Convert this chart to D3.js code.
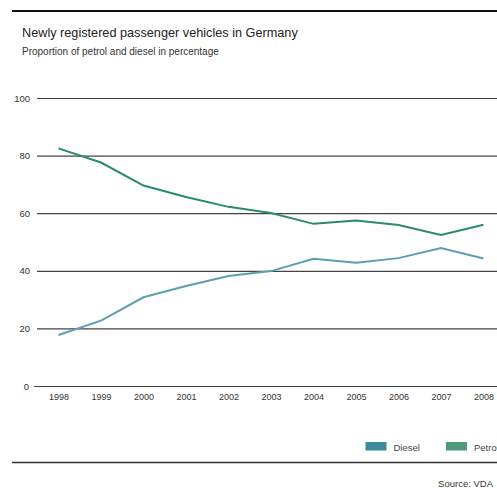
<!DOCTYPE html>
<html>
<head>
<meta charset="utf-8">
<script src="https://cdn.jsdelivr.net/npm/d3@7"></script>
<style>
  body { margin: 0; background: #fff; }
  svg { display: block; font-family: "Liberation Sans", Arial, sans-serif; }
</style>
</head>
<body>
<div id="chart"></div>
<script>
const years = [1998, 1999, 2000, 2001, 2002, 2003, 2004, 2005, 2006, 2007, 2008];
const petrol = [82.5, 77.6, 69.6, 65.6, 62.2, 60.1, 56.3, 57.5, 55.9, 52.4, 56.0];
const diesel = [17.7, 22.7, 30.8, 34.7, 38.2, 39.9, 44.2, 42.8, 44.4, 47.9, 44.3];
const yTicks = [0, 20, 40, 60, 80, 100];
const seriesNames = ["Diesel", "Petrol"];

const W = 497, H = 488;

function createSvg() {
  return d3.select("#chart").append("svg")
    .attr("width", W)
    .attr("height", H);
}

function createScales() {
  const xScale = d3.scalePoint().domain(years).range([58.5, 483.5]);
  const yScale = d3.scaleLinear().domain([0, 100]).range([386, 98]);
  return { xScale, yScale };
}

function drawFrame(svg) {
  // top rule
  svg.append("line")
    .attr("x1", 12).attr("x2", W).attr("y1", 11).attr("y2", 11)
    .attr("stroke", "#111").attr("stroke-width", 2);

  svg.append("text")
    .attr("x", 22).attr("y", 37)
    .style("font-size", "12.7px").style("fill", "#222")
    .text("Newly registered passenger vehicles in Germany");

  svg.append("text")
    .attr("x", 22).attr("y", 55)
    .style("font-size", "10px").style("fill", "#333")
    .text("Proportion of petrol and diesel in percentage");

  // bottom rule
  svg.append("line")
    .attr("x1", 12).attr("x2", W).attr("y1", 462.5).attr("y2", 462.5)
    .attr("stroke", "#333").attr("stroke-width", 1.5);

  svg.append("text")
    .attr("x", 493).attr("y", 487)
    .attr("text-anchor", "end")
    .style("font-size", "9.5px").style("fill", "#333")
    .text("Source: VDA");
}

function addAxes(svg, xScale, yScale) {
  const yAxis = d3.axisLeft(yScale)
    .tickValues(yTicks)
    .tickSize(-(W - 37))
    .tickPadding(6);

  const gy = svg.append("g").attr("transform", "translate(37,0)").call(yAxis);
  gy.select(".domain").remove();
  gy.selectAll(".tick line")
    .attr("stroke", "#444")
    .attr("stroke-width", 1.2)
    .attr("x1", (d) => (d === 0 ? -3 : 0));
  gy.selectAll(".tick text")
    .style("font-size", "9.5px")
    .style("fill", "#333")
    .attr("x", (d) => (d === 0 ? -8 : -7));

  const xAxis = d3.axisBottom(xScale).tickSize(0).tickPadding(8);
  const gx = svg.append("g").attr("transform", "translate(0,386)").call(xAxis);
  gx.select(".domain").remove();
  gx.selectAll(".tick text")
    .style("font-size", "9px")
    .style("fill", "#333");
}

function drawLines(svg, xScale, yScale) {
  const line = d3.line()
    .x((d, i) => xScale(years[i]))
    .y((d) => yScale(d));

  svg.append("path")
    .datum(petrol)
    .attr("d", line)
    .attr("fill", "none")
    .attr("stroke", "#2a8c66")
    .attr("stroke-width", 2);

  svg.append("path")
    .datum(diesel)
    .attr("d", line)
    .attr("fill", "none")
    .attr("stroke", "#5b9fb0")
    .attr("stroke-width", 2);
}

function addLegend(svg) {
  const legendX = [365.5, 446];
  const swatchColors = ["#3d8a9b", "#4e9a7a"];
  const g = svg.selectAll(".legend")
    .data(seriesNames)
    .enter()
    .append("g")
    .attr("class", "legend")
    .attr("transform", (d, i) => `translate(${legendX[i]},442)`);

  g.append("rect")
    .attr("width", 21).attr("height", 8.5)
    .attr("fill", (d, i) => swatchColors[i]);

  g.append("text")
    .attr("x", 28).attr("y", 8.5)
    .style("font-size", "9.5px")
    .style("fill", "#444")
    .text((d) => d);
}

const svg = createSvg();
const { xScale, yScale } = createScales();
drawFrame(svg);
addAxes(svg, xScale, yScale);
drawLines(svg, xScale, yScale);
addLegend(svg);
</script>
</body>
</html>
